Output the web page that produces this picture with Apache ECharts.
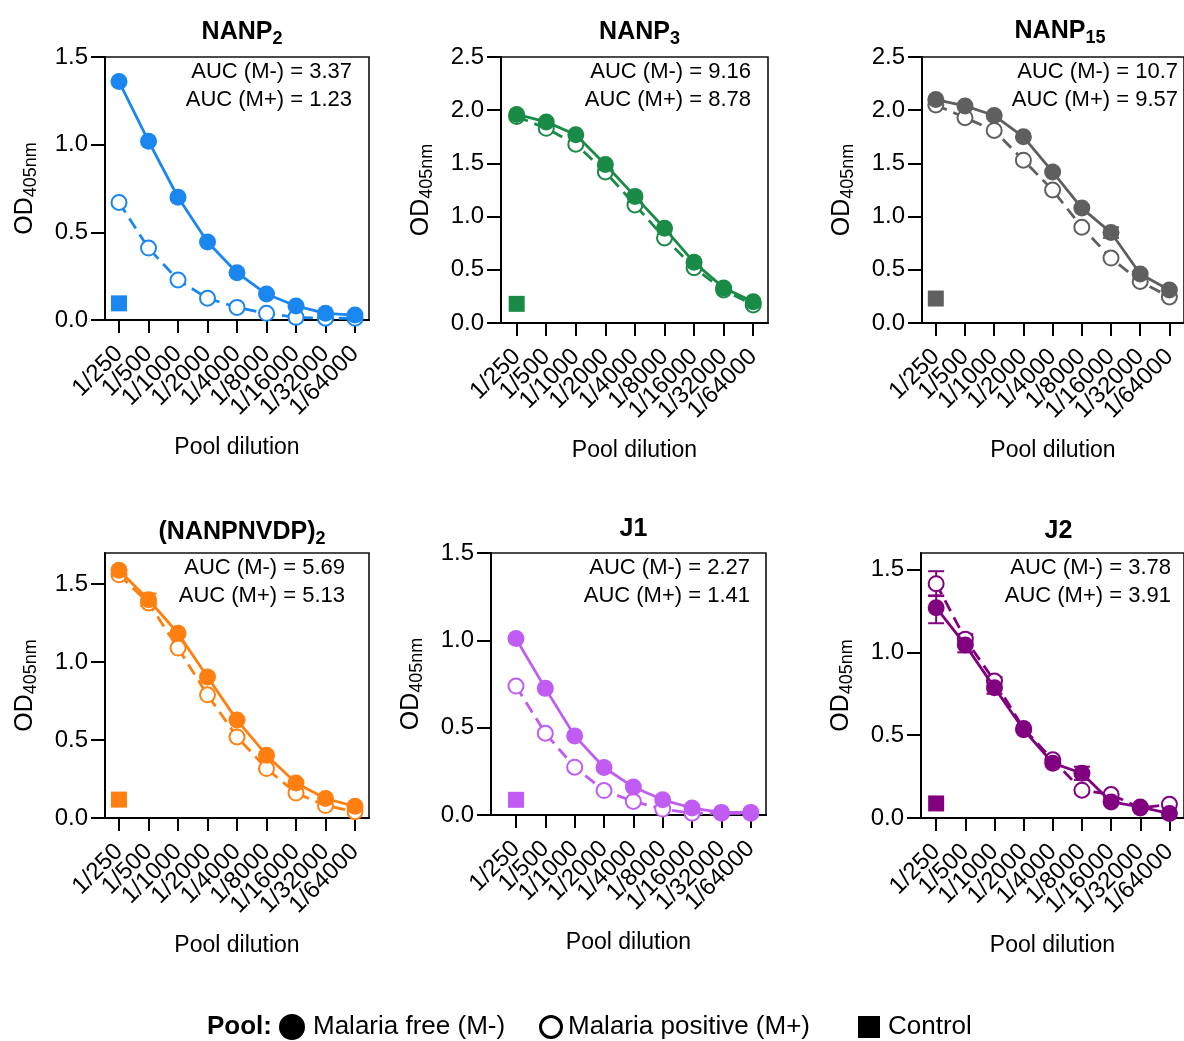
<!DOCTYPE html>
<html>
<head>
<meta charset="utf-8">
<script src="https://cdn.jsdelivr.net/npm/echarts@6/dist/echarts.min.js"></script>
<style>
  html, body { margin: 0; padding: 0; background: #fff; }
  #chart { width: 1184px; height: 1041px; }
</style>
</head>
<body>
<div id="chart"></div>
<script>
// dilution categories (x axis)
const dilutions = ['1/250', '1/500', '1/1000', '1/2000', '1/4000', '1/8000', '1/16000', '1/32000', '1/64000'];

// OD405nm per pool
const nanp2Free = [1.36, 1.02, 0.70, 0.445, 0.27, 0.148, 0.08, 0.038, 0.028];
const nanp2Pos = [0.67, 0.41, 0.228, 0.124, 0.072, 0.038, 0.015, 0.01, 0.01];
const nanp2Ctrl = 0.095;

const nanp3Free = [1.96, 1.89, 1.77, 1.49, 1.19, 0.89, 0.57, 0.33, 0.20];
const nanp3Pos = [1.94, 1.83, 1.68, 1.42, 1.11, 0.80, 0.52, 0.31, 0.17];
const nanp3Ctrl = 0.18;

const nanp15Free = [2.10, 2.04, 1.95, 1.75, 1.42, 1.08, 0.85, 0.46, 0.31];
const nanp15Pos = [2.05, 1.93, 1.81, 1.53, 1.25, 0.90, 0.61, 0.39, 0.245];
const nanp15Ctrl = 0.23;

const nvdpFree = [1.59, 1.40, 1.185, 0.905, 0.628, 0.403, 0.225, 0.125, 0.075];
const nvdpPos = [1.56, 1.38, 1.09, 0.79, 0.52, 0.317, 0.16, 0.08, 0.04];
const nvdpCtrl = 0.118;

const j1Free = [1.01, 0.725, 0.453, 0.272, 0.16, 0.087, 0.04, 0.015, 0.015];
const j1Pos = [0.738, 0.468, 0.274, 0.14, 0.078, 0.034, 0.01, 0.01, 0.01];
const j1Ctrl = 0.087;

const j2Free = [1.27, 1.045, 0.787, 0.533, 0.331, 0.27, 0.097, 0.067, 0.027];
const j2Pos = [1.415, 1.08, 0.827, 0.54, 0.351, 0.168, 0.142, 0.06, 0.083];
const j2Ctrl = 0.088;

// error bars: [dilution index, low, high]
const nanp15FreeErr = [[6, 0.80, 0.90]];
const nvdpFreeErr = [[1, 1.36, 1.44]];
const j2FreeErr = [[0, 1.176, 1.344], [1, 1.00, 1.09], [2, 0.75, 0.83], [5, 0.23, 0.31]];
const j2PosErr = [[0, 1.34, 1.49], [1, 1.05, 1.11], [2, 0.80, 0.85]];

// AUC labels
const aucFree = ['3.37', '9.16', '10.7', '5.69', '2.27', '3.78'];
const aucPos = ['1.23', '8.78', '9.57', '5.13', '1.41', '3.91'];

const FONT = '"Liberation Sans", Arial, Helvetica, sans-serif';

// layout per panel
const panels = [
  { name: 'NANP', sub: '2', free: nanp2Free, pos: nanp2Pos, ctrl: nanp2Ctrl, color: '#1a87f0',
    yMax: 1.5, left: 105, top: 57, width: 264, height: 263, xMin: -0.475, xMax: 8.474, titleTop: 11, aucDx: 17 },
  { name: 'NANP', sub: '3', free: nanp3Free, pos: nanp3Pos, ctrl: nanp3Ctrl, color: '#1a8a47',
    yMax: 2.5, left: 501, top: 57, width: 267, height: 266, xMin: -0.53, xMax: 8.50, titleTop: 11, aucDx: 17 },
  { name: 'NANP', sub: '15', free: nanp15Free, pos: nanp15Pos, ctrl: nanp15Ctrl, color: '#5f5f5f',
    yMax: 2.5, left: 922, top: 57, width: 266, height: 266, xMin: -0.473, xMax: 8.5, titleTop: 10, aucDx: 10,
    freeErr: nanp15FreeErr },
  { name: '(NANPNVDP)', sub: '2', free: nvdpFree, pos: nvdpPos, ctrl: nvdpCtrl, color: '#ff8011',
    yMax: 1.7, left: 105, top: 553, width: 264, height: 265, xMin: -0.475, xMax: 8.474, titleTop: 511, aucDx: 24,
    freeErr: nvdpFreeErr },
  { name: 'J1', sub: '', free: j1Free, pos: j1Pos, ctrl: j1Ctrl, color: '#c05cf2',
    yMax: 1.5, left: 491, top: 553, width: 275, height: 262, xMin: -0.851, xMax: 8.52, titleTop: 508, aucDx: 16 },
  { name: 'J2', sub: '', free: j2Free, pos: j2Pos, ctrl: j2Ctrl, color: '#800080',
    yMax: 1.6, left: 921, top: 553, width: 265, height: 265, xMin: -0.52, xMax: 8.5, titleTop: 510, aucDx: 15,
    freeErr: j2FreeErr, posErr: j2PosErr }
];

function errSeries(data, color, k) {
  return {
    type: 'custom', xAxisIndex: k, yAxisIndex: k, z: 1,
    data: data,
    renderItem: function (params, api) {
      const lo = api.coord([api.value(0), api.value(1)]);
      const hi = api.coord([api.value(0), api.value(2)]);
      const w = 8;
      const st = { stroke: color, lineWidth: 2 };
      return { type: 'group', children: [
        { type: 'line', shape: { x1: lo[0], y1: lo[1], x2: hi[0], y2: hi[1] }, style: st },
        { type: 'line', shape: { x1: lo[0] - w, y1: lo[1], x2: lo[0] + w, y2: lo[1] }, style: st },
        { type: 'line', shape: { x1: hi[0] - w, y1: hi[1], x2: hi[0] + w, y2: hi[1] }, style: st }
      ]};
    }
  };
}

const grid = [], xAxis = [], yAxis = [], series = [], title = [], graphic = [];
const n = panels.length;

panels.forEach((p, k) => {
  // main plot grid (values on a numeric x so the first dilution can sit off the edge)
  grid.push({ left: p.left, top: p.top, width: p.width, height: p.height,
    show: true, borderColor: '#111', borderWidth: 1.6, backgroundColor: 'transparent' });

  xAxis.push({
    type: 'value', gridIndex: k, min: p.xMin, max: p.xMax,
    axisLine: { show: true, onZero: false, lineStyle: { color: '#000', width: 2 } },
    axisTick: { show: false },
    axisLabel: { show: false },
    splitLine: { show: false },
    name: 'Pool dilution', nameLocation: 'middle', nameGap: 116,
    nameTextStyle: { fontSize: 23, color: '#000', fontFamily: FONT }
  });

  const yt = [];
  for (let v = 0; v <= p.yMax + 1e-9; v += 0.5) yt.push(Math.round(v * 10) / 10);
  yAxis.push({
    type: 'value', gridIndex: k, min: 0, max: p.yMax,
    axisLine: { show: true, onZero: false, lineStyle: { color: '#000', width: 2 } },
    axisTick: { show: true, customValues: yt, length: 14, lineStyle: { color: '#000', width: 2 } },
    axisLabel: { customValues: yt, margin: 17, fontSize: 24, color: '#000', fontFamily: FONT,
      showMinLabel: true, showMaxLabel: true,
      formatter: v => v.toFixed(1) },
    splitLine: { show: false },
    name: '{a|OD}{b|405nm}', nameLocation: 'middle', nameRotate: 90, nameGap: 65,
    nameTextStyle: { fontFamily: FONT, color: '#000', rich: {
      a: { fontSize: 25, lineHeight: 30, fontFamily: FONT, color: '#000' },
      b: { fontSize: 18, lineHeight: 30, verticalAlign: 'bottom', fontFamily: FONT, color: '#000' } } }
  });

  title.push({
    text: p.sub ? '{a|' + p.name + '}{b|' + p.sub + '}' : '{a|' + p.name + '}',
    left: p.left + p.width / 2, top: p.titleTop, textAlign: 'center',
    textStyle: { rich: {
      a: { fontSize: 25, fontWeight: 'bold', lineHeight: 32, fontFamily: FONT, color: '#000' },
      b: { fontSize: 18, fontWeight: 'bold', lineHeight: 32, verticalAlign: 'bottom', fontFamily: FONT, color: '#000' } } }
  });

  const rx = p.left + p.width - p.aucDx;
  graphic.push({ type: 'text', style: { text: 'AUC (M-) = ' + aucFree[k], x: rx, y: p.top + 4,
    textAlign: 'right', textVerticalAlign: 'top', font: '22px ' + FONT, fill: '#000' } });
  graphic.push({ type: 'text', style: { text: 'AUC (M+) = ' + aucPos[k], x: rx, y: p.top + 32,
    textAlign: 'right', textVerticalAlign: 'top', font: '22px ' + FONT, fill: '#000' } });

  if (p.posErr) series.push(errSeries(p.posErr, p.color, k));
  if (p.freeErr) series.push(errSeries(p.freeErr, p.color, k));

  series.push({
    type: 'line', xAxisIndex: k, yAxisIndex: k, z: 2,
    data: p.pos.map((v, i) => [i, v]),
    symbol: 'emptyCircle', symbolSize: 15, showAllSymbol: true,
    itemStyle: { color: p.color, borderColor: p.color, borderWidth: 3 },
    lineStyle: { color: p.color, width: 2.8, type: [12, 7] },
    animation: false
  });
  series.push({
    type: 'line', xAxisIndex: k, yAxisIndex: k, z: 3,
    data: p.free.map((v, i) => [i, v]),
    symbol: 'circle', symbolSize: 17, showAllSymbol: true,
    itemStyle: { color: p.color },
    lineStyle: { color: p.color, width: 2.8 },
    animation: false
  });
  series.push({
    type: 'scatter', xAxisIndex: k, yAxisIndex: k, z: 3,
    data: [[0, p.ctrl]],
    symbol: 'rect', symbolSize: 16,
    itemStyle: { color: p.color, opacity: 1 },
    animation: false
  });
});

// label-only grids: a category axis whose slots line up with the numeric x positions
panels.forEach((p, k) => {
  const pxPerUnit = p.width / (p.xMax - p.xMin);
  grid.push({ left: p.left + (-0.5 - p.xMin) * pxPerUnit, top: p.top,
    width: dilutions.length * pxPerUnit, height: p.height, show: false });
  xAxis.push({
    type: 'category', gridIndex: n + k, data: dilutions, boundaryGap: true,
    axisLine: { show: false },
    axisTick: { show: true, alignWithLabel: true, interval: 0, length: 13, lineStyle: { color: '#000', width: 2 } },
    axisLabel: { interval: 0, rotate: 45, margin: 30, fontSize: 24, color: '#000', fontFamily: FONT }
  });
  yAxis.push({ type: 'value', gridIndex: n + k, show: false, min: 0, max: p.yMax });
});

// legend row at the bottom
const ly = 1027;
graphic.push({ type: 'text', style: { text: 'Pool:', x: 207, y: ly, textVerticalAlign: 'middle',
  font: 'bold 26px ' + FONT, fill: '#000' } });
graphic.push({ type: 'circle', shape: { cx: 292, cy: ly, r: 13 }, style: { fill: '#000' } });
graphic.push({ type: 'text', style: { text: 'Malaria free (M-)', x: 313, y: ly, textVerticalAlign: 'middle',
  font: '26px ' + FONT, fill: '#000' } });
graphic.push({ type: 'circle', shape: { cx: 551, cy: ly, r: 10.5 }, style: { fill: '#fff', stroke: '#000', lineWidth: 3 } });
graphic.push({ type: 'text', style: { text: 'Malaria positive (M+)', x: 568, y: ly, textVerticalAlign: 'middle',
  font: '26px ' + FONT, fill: '#000' } });
graphic.push({ type: 'rect', shape: { x: 858, y: ly - 11, width: 22, height: 22 }, style: { fill: '#000' } });
graphic.push({ type: 'text', style: { text: 'Control', x: 888, y: ly, textVerticalAlign: 'middle',
  font: '26px ' + FONT, fill: '#000' } });

const chart = echarts.init(document.getElementById('chart'));
chart.setOption({
  animation: false,
  backgroundColor: '#fff',
  textStyle: { fontFamily: FONT },
  title: title,
  grid: grid,
  xAxis: xAxis,
  yAxis: yAxis,
  series: series,
  graphic: graphic
});
</script>
</body>
</html>
